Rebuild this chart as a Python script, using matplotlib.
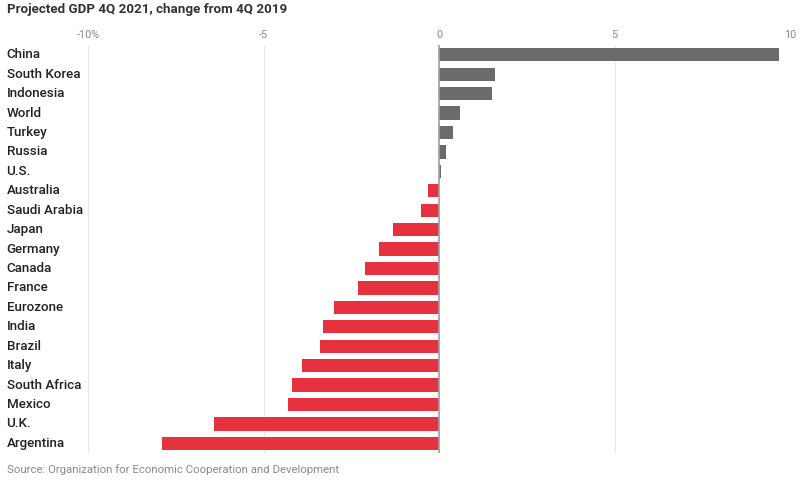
import matplotlib
matplotlib.use('AGG')
import matplotlib.pyplot as plt

countries = ["China", "South Korea", "Indonesia", "World", "Turkey", "Russia", "U.S.",
             "Australia", "Saudi Arabia", "Japan", "Germany", "Canada", "France",
             "Eurozone", "India", "Brazil", "Italy", "South Africa", "Mexico", "U.K.",
             "Argentina"]
change = [9.7, 1.6, 1.5, 0.6, 0.4, 0.2, 0.07,
          -0.3, -0.5, -1.3, -1.7, -2.1, -2.3,
          -3.0, -3.3, -3.4, -3.9, -4.2, -4.3, -6.4,
          -7.9]
ticks = [-10, -5, 0, 5, 10]
tick_labels = ["-10%", "-5", "0", "5", "10"]

plt.rcParams['font.family'] = ['Roboto', 'DejaVu Sans']

fig = plt.figure(figsize=(8, 4.82), dpi=100)
ax = fig.add_axes([0.11, 0.060, 0.8775, 0.8465])

colors = ['#6b6b6b' if v >= 0 else '#e5323e' for v in change]
pos = range(len(countries))
ax.barh(pos, change, height=0.68, color=colors, zorder=3)

ax.set_xlim(-10, 10)
ax.set_ylim(len(countries) - 0.5, -0.5)
ax.set_yticks([])
ax.set_xticks(ticks)
ax.set_xticklabels(tick_labels)
ax.xaxis.tick_top()
ax.tick_params(axis='x', length=0, pad=4, labelsize=7.8, labelcolor='#8a8a8a')
ax.grid(axis='x', color='#e6e6e6', linewidth=0.8, zorder=0)
ax.axvline(0, color='#a0a0a0', linewidth=1.2, zorder=4)
for s in ax.spines.values():
    s.set_visible(False)

for i, name in enumerate(countries):
    ax.text(-0.116, i, name, transform=ax.get_yaxis_transform(), ha='left', va='center',
            fontsize=9.6, fontweight='medium', color='#222222')

fig.text(7 / 800, 1 - 10 / 482, "Projected GDP 4Q 2021, change from 4Q 2019", ha='left', va='center',
         fontsize=9.6, fontweight='bold', color='#333333')
fig.text(7 / 800, 1 - 470 / 482, "Source: Organization for Economic Cooperation and Development",
         ha='left', va='center', fontsize=8.2, color='#8a8a8a')

plt.savefig("out.png", dpi=100)
